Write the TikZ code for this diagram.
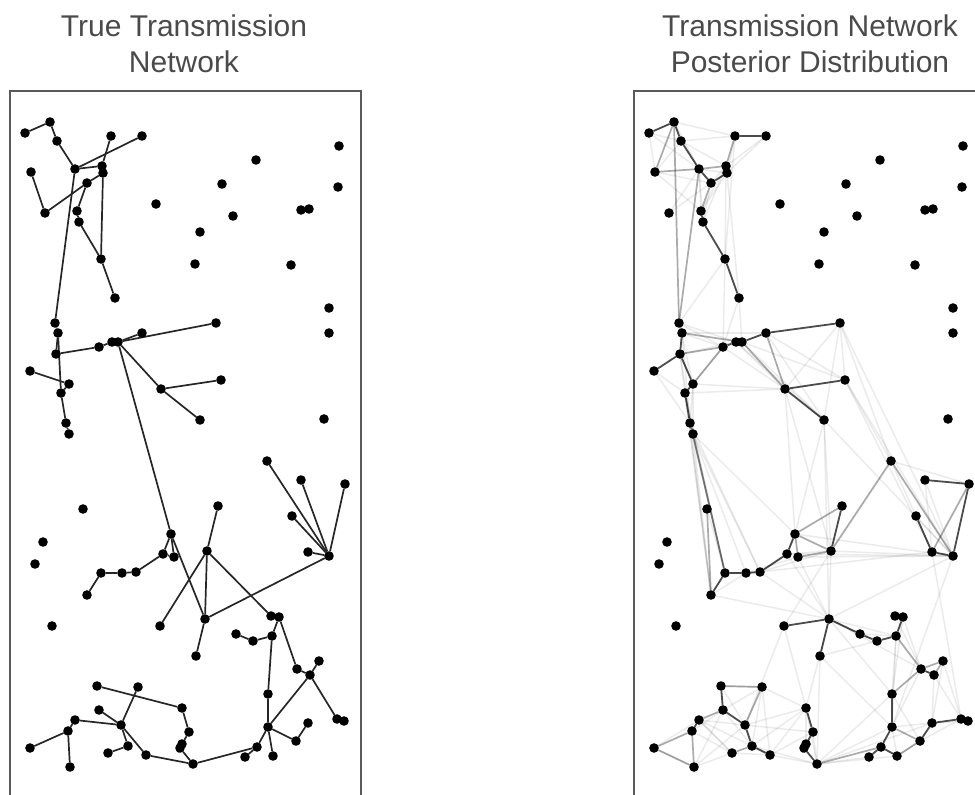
\documentclass[tikz,border=0pt]{standalone}
\usepackage{fontspec}
\setmainfont{Liberation Sans}
\usetikzlibrary{backgrounds}
\definecolor{titlegray}{HTML}{4A4A4A}
\definecolor{framegray}{HTML}{5A5A5A}
\begin{document}
\begin{tikzpicture}[x=1pt,y=-1pt,
 dot/.style={circle,fill=black,inner sep=0pt,minimum size=9.6pt,outer sep=0pt},
 tedge/.style={draw=black!85,line width=1.7pt},
 pdark/.style={draw=black,line width=1.8pt,opacity=0.7},
 pmid/.style={draw=black,line width=1.7pt,opacity=0.33},
 pfaint/.style={draw=black,line width=1.5pt,opacity=0.08},
 frame/.style={draw=framegray,line width=1.1pt},
 ttl/.style={text=titlegray,font=\fontsize{30}{35}\selectfont,inner sep=0pt,anchor=base}]
\useasboundingbox (0,0) rectangle (975,795);
% frames
\draw[frame] (10,795) -- (10,91) -- (361,91) -- (361,795);
\draw[frame] (634,795) -- (634,91) -- (976,91);
% titles
\node[ttl] (t1a) at (184,36.5) {True Transmission};
\node[ttl] (t1b) at (184,72.5) {Network};
\node[ttl] (t2a) at (810,36.5) {Transmission Network};
\node[ttl] (t2b) at (810,72.5) {Posterior Distribution};
% points
\foreach \i/\x/\y in {1/25/133, 2/50/122, 3/57/141, 4/111/136, 5/142/136, 6/339/146, 7/256/160, 8/75/169, 9/102/166, 10/103/173, 11/31/172, 12/87/183, 13/222/184, 14/338/187, 15/45/213, 16/77/211, 17/79/222, 18/156/204, 19/301/210, 20/309/209, 21/233/216, 22/200/232, 23/101/259, 24/195/264, 25/291/265, 26/115/298, 27/329/308, 28/329/333, 29/55/323, 30/58/333, 31/216/323, 32/142/333, 33/99/347, 34/112/342, 35/118/342, 36/56/354, 37/30/371, 38/69/384, 39/61/393, 40/161/389, 41/221/380, 42/200/420, 43/324/419, 44/66/423, 45/69/434, 46/267/461, 47/301/480, 48/345/484, 49/83/509, 50/218/506, 51/292/516, 52/43/542, 53/35/564, 54/171/534, 55/163/554, 56/174/557, 57/207/551, 58/308/552, 59/329/556, 60/101/573, 61/122/573, 62/136/572, 63/87/595, 64/52/626, 65/160/626, 66/205/619, 67/271/616, 68/279/617, 69/236/634, 70/253/641, 71/272/636, 72/196/656, 73/297/669, 74/319/661, 75/310/675, 76/268/694, 77/97/686, 78/138/687, 79/182/708, 80/99/710, 81/75/720, 82/68/731, 83/121/725, 84/337/719, 85/344/721, 86/268/727, 87/308/723, 88/189/732, 89/30/748, 90/128/746, 91/108/753, 92/146/755, 93/182/744, 94/180/748, 95/296/741, 96/257/747, 97/245/757, 98/273/756, 99/193/764, 100/70/767}
{
  \node[dot] (L\i) at (\x,\y) {};
  \node[dot] (R\i) at ({\x+624},\y) {};
}
\begin{pgfonlayer}{background}
% true network
\foreach \a/\b in {1/2,2/3,3/8,8/5,8/9,4/9,9/10,10/23,11/15,15/12,12/10,12/16,16/17,17/23,8/29,23/26,29/30,30/36,30/39,39/44,44/45,37/38,38/39,36/33,33/34,34/35,35/32,35/31,35/40,40/41,40/42,35/54,54/55,54/56,55/56,54/66,55/62,62/61,61/60,60/63,57/50,57/65,57/66,57/67,66/59,59/46,59/47,59/48,59/51,59/58,66/72,67/68,68/71,71/70,70/69,71/76,68/73,73/75,75/74,75/86,75/84,84/85,76/86,86/95,95/87,86/98,86/96,96/97,96/99,99/94,94/93,93/88,88/79,79/77,99/92,92/83,83/78,83/80,83/81,81/82,82/89,82/100,83/90,90/91}
  \draw[tedge] (L\a) -- (L\b);
% posterior: faint
\foreach \a/\b in {3/11,1/11,3/9,3/4,2/4,11/12,1/3,5/9,5/10,4/10,4/23,9/23,37/39,29/34,30/32,31/40,31/41,33/40,56/59,57/59,55/59,62/58,51/59,47/59,77/78,78/79,68/73,99/86,99/79,91/81,89/100,37/44,38/45,15/8,15/12,12/9,16/8,8/10,17/12,36/34,29/33,30/33,38/40,39/40,33/39,35/41,32/41,34/40,31/42,40/57,41/59,42/57,42/54,42/59,31/46,41/46,45/54,45/63,49/60,39/63,44/63,54/59,62/57,61/56,56/66,55/66,57/65,57/66,66/59,62/66,63/66,65/83,66/79,66/71,65/79,72/70,69/71,67/73,68/76,71/76,74/84,75/84,75/87,73/86,76/95,86/98,86/87,95/98,97/99,98/99,99/88,99/92,92/88,92/79,90/79,83/79,83/88,78/80,77/83,78/90,80/82,81/90,81/91,82/91,100/91,81/83,80/90,78/92,99/76,99/87,58/84,59/86,51/46,48/46,47/58,31/59,41/58,42/66,40/54,35/42,32/42,34/42,36/45,38/44,30/44,29/38,11/16,1/8,2/8,8/17,9/16,10/16,9/17,10/26,23/33,26/35,26/33,23/29,36/63,39/60,45/61,45/62,44/62,55/57,60/62,63/61,66/73,66/70,66/76,72/99,72/86,71/86,74/87,85/87,95/84,89/81,100/80,100/83,90/99,91/92,93/79,94/88}
  \draw[pfaint] (R\a) -- (R\b);
% posterior: medium
\foreach \a/\b in {4/9,11/8,12/16,8/29,8/9,30/35,36/33,35/40,32/40,33/38,46/57,46/59,48/58,50/54,54/57,54/56,60/45,44/60,56/57,73/74,74/75,73/76,86/95,99/96,80/81,90/91,82/100,82/89,78/83,2/11,71/73,44/45,2/29,49/63,89/100,77/78,98/95}
  \draw[pmid] (R\a) -- (R\b);
% posterior: dark
\foreach \a/\b in {1/2,2/3,3/8,4/5,8/12,12/10,9/10,16/17,17/23,23/26,29/30,30/36,37/36,36/38,38/39,39/44,33/34,34/35,35/32,32/31,40/41,40/42,47/48,48/59,51/58,58/59,50/57,54/55,55/62,62/61,61/60,60/63,65/66,66/72,66/69,69/70,70/71,71/68,68/67,73/75,76/86,86/96,96/97,96/98,95/87,87/84,84/85,99/94,94/93,93/88,88/79,77/80,80/83,83/90,90/92,81/82}
  \draw[pdark] (R\a) -- (R\b);
\end{pgfonlayer}
\end{tikzpicture}
\end{document}
